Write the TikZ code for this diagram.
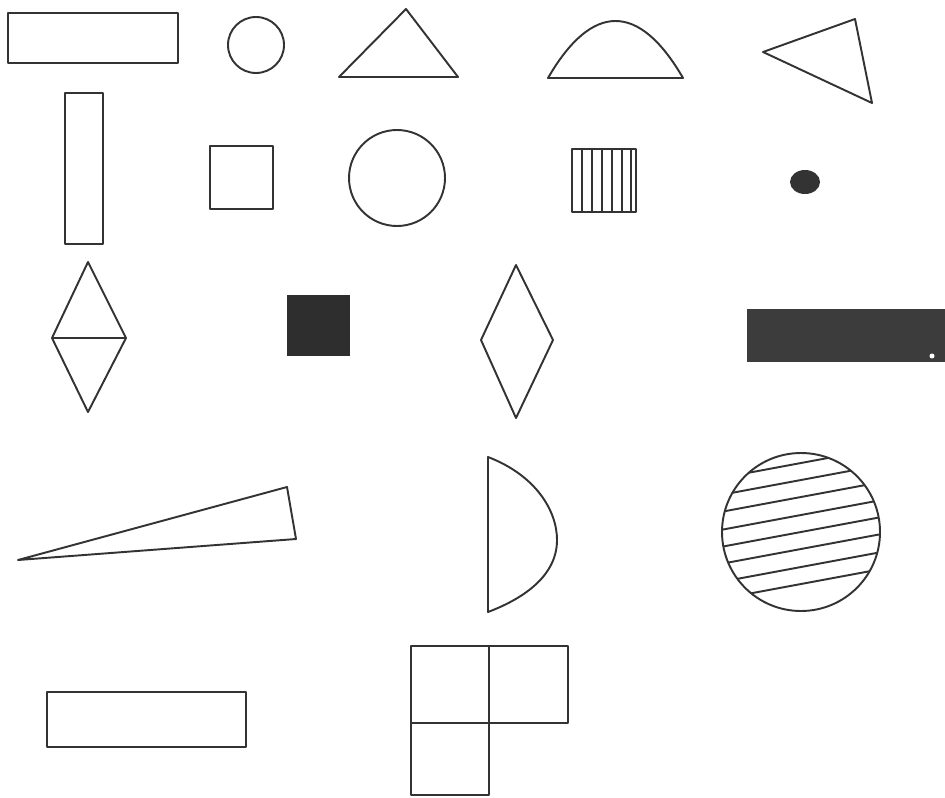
\documentclass[tikz,border=0pt]{standalone}
\usepackage{tikz}
\definecolor{InkGray}{HTML}{333333}
\definecolor{SlabGray}{HTML}{3C3C3C}

\begin{document}
\begin{tikzpicture}[x=.02cm,y=-.02cm,line width=1.1pt,line join=round,
  outline/.style={draw=InkGray},solid/.style={fill=SlabGray,draw=none}]
\useasboundingbox (0,0) rectangle (945,797);
% first row
\draw[outline] (8,13) rectangle (178,63);
\draw[outline] (256,45) circle (28);
\draw[outline] (339,77) -- (406,9) -- (458,77) -- cycle;
\draw[outline] (548,78) .. controls (592,2) and (639,2) .. (683,78) -- cycle;
\draw[outline] (763,52) -- (855,19) -- (872,103) -- cycle;
% second row
\draw[outline] (65,93) rectangle (103,244);
\draw[outline] (210,146) rectangle (273,209);
\draw[outline] (397,178) circle (48);
\draw[outline] (572,149) rectangle (636,212);
\foreach \x in {582,592,602,612,622,631}{\draw[outline] (\x,149) -- (\x,212);}
\fill[InkGray] (805,182) ellipse [x radius=15,y radius=12];
% third row
\draw[outline] (88,262) -- (126,338) -- (88,412) -- (52,338) -- cycle (52,338) -- (126,338);
\fill[InkGray!90!black] (287,295) rectangle (350,356);
\draw[outline] (516,265) -- (553,340) -- (516,418) -- (481,340) -- cycle;
\fill[SlabGray] (747,309) rectangle (945,362);
\fill[white] (932,356) circle (2.5);
% fourth row
\draw[outline] (18,560) -- (287,487) -- (296,539) -- cycle;
\draw[outline] (488,457) .. controls (535,475) and (557,510) .. (557,540)
  .. controls (557,575) and (525,598) .. (488,612) -- cycle;
\begin{scope}
\clip (801,532) circle (79);
\foreach \d in {-69,-52,-35,-17,0,17,35,52}{\draw[outline] (715,532+\d+16) -- (887,532+\d-16);}
\end{scope}
\draw[outline] (801,532) circle (79);
% last row
\draw[outline] (47,692) rectangle (246,747);
\draw[outline] (411,646) rectangle (568,723) (489,646) -- (489,795) -- (411,795) -- (411,723);
\end{tikzpicture}
\end{document}
